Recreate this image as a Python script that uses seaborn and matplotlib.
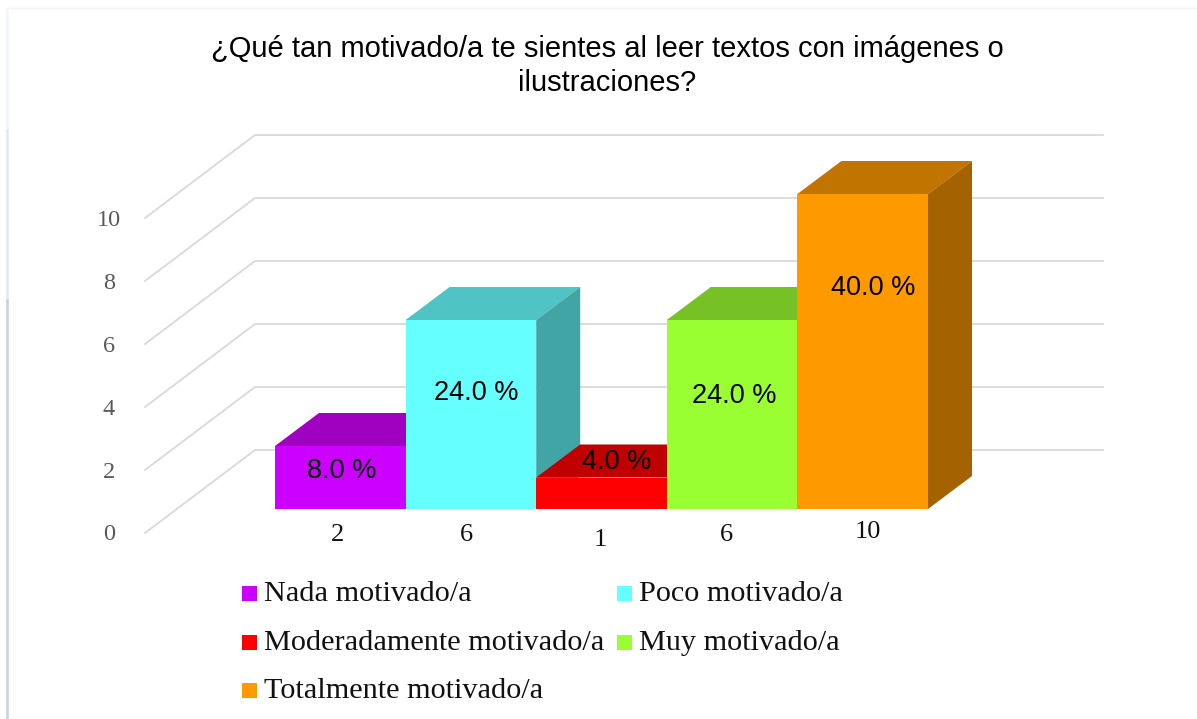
import numpy as np
import matplotlib
matplotlib.use('Agg')
import matplotlib.pyplot as plt
from matplotlib.patches import Polygon, Rectangle
import pandas as pd
import seaborn as sns

categories = ['Nada motivado/a', 'Poco motivado/a', 'Moderadamente motivado/a', 'Muy motivado/a', 'Totalmente motivado/a']
counts = [2, 6, 1, 6, 10]
percent_labels = ['8.0 %', '24.0 %', '4.0 %', '24.0 %', '40.0 %']
count_labels = ['2', '6', '1', '6', '10']
y_ticks = [0, 2, 4, 6, 8, 10]
title = '¿Qué tan motivado/a te sientes al leer textos con imágenes o\nilustraciones?'

front_colors = ['#CC00FF', '#66FFFF', '#FF0000', '#99FF33', '#FF9900']
top_colors = ['#A000BF', '#50C4C4', '#C00000', '#76C226', '#C27400']
side_colors = ['#8A00AA', '#42A5A5', '#A00000', '#60A020', '#A46200']

W, H = 1197, 719
fig = plt.figure(figsize=(W / 100, H / 100), dpi=100)
fig.patch.set_facecolor('white')

# data axes sit over the front face of the bars, pixel box 275..928 x 509..194
ax = fig.add_axes([275 / W, 1 - 509 / H, 653 / W, 315 / H])
df = pd.DataFrame({'cat': categories, 'n': counts})
sns.barplot(data=df, x='cat', y='n', hue='cat', palette=front_colors, saturation=1, dodge=False, legend=False, width=1.0, ax=ax, zorder=3)
ax.set_xlim(-0.5, 4.5)
ax.set_ylim(0, 10)
ax.axis('off')

# overlay in pixel coords for the fake 3d bits
ov = fig.add_axes([0, 0, 1, 1], zorder=-1)
ov.set_xlim(0, W)
ov.set_ylim(H, 0)
ov.axis('off')

top = fig.add_axes([0, 0, 1, 1], zorder=2)
top.set_xlim(0, W)
top.set_ylim(H, 0)
top.axis('off')
top.patch.set_alpha(0)

# page border, left side fades out towards the top
ov.plot([7, 7], [8, 130], color='#F1F5FA', lw=1.8)
ov.plot([7, 7], [130, 300], color='#DFE8F4', lw=1.8)
ov.plot([7, 7], [300, 719], color='#C3D3E8', lw=1.8)
ov.plot([8, 1197], [8, 8], color='#F4F4F4', lw=1)

dx, dy = 44, -33
px_per_unit = 31.5
x0, base = 275, 509
bw = 653 / 5

# back wall and floor grid lines
for v in y_ticks:
    py = base - v * px_per_unit + 25
    ov.plot([145, 145 + 110, 1103], [py - 1, py - 84, py - 84], color='#D9D9D9', lw=1.3)

for i in range(5):
    h = counts[i] * px_per_unit
    l = x0 + i * bw
    r = l + bw
    t = base - h
    ov.add_patch(Polygon([(l, t), (l + dx, t + dy), (r + dx, t + dy), (r, t)], fc=top_colors[i], ec='none', zorder=2 + i * 0.1))
    ov.add_patch(Polygon([(r, t), (r + dx, t + dy), (r + dx, base + dy), (r, base)], fc=side_colors[i], ec='none', zorder=2 + i * 0.1))

# percent labels on bars
pct_pos = [(342, 471), (476, 393), (617, 462), (734, 396), (873, 288)]
for (px, py), s in zip(pct_pos, percent_labels):
    top.text(px, py, s, ha='center', va='center', fontsize=19.5, family='Liberation Sans', color='black')

# count labels below
count_pos = [(337, 535), (466, 535), (600, 540), (726, 535), (868, 532)]
for (px, py), s in zip(count_pos, count_labels):
    top.text(px, py, s, ha='center', va='center', fontsize=19, family='Liberation Serif', color='#111111')

# y tick labels
for v in y_ticks:
    top.text(109, 535 - v * 31.4, str(v), ha='center', va='center', fontsize=17.5, family='Liberation Serif', color='#595959')

top.text(607, 66, title, ha='center', va='center', fontsize=21, family='Liberation Sans', color='black', linespacing=1.3)

# legend by hand to keep the wrapped layout
leg_pos = [(242, 593), (617, 593), (242, 642), (617, 642), (242, 690)]
for (px, py), c, s in zip(leg_pos, front_colors, categories):
    top.add_patch(Rectangle((px, py - 7), 15, 15, fc=c, ec='none'))
    top.text(px + 22, py + 1, s, ha='left', va='center', fontsize=21.8, family='Liberation Serif', color='#111111')

fig.savefig('out.png', dpi=100)
